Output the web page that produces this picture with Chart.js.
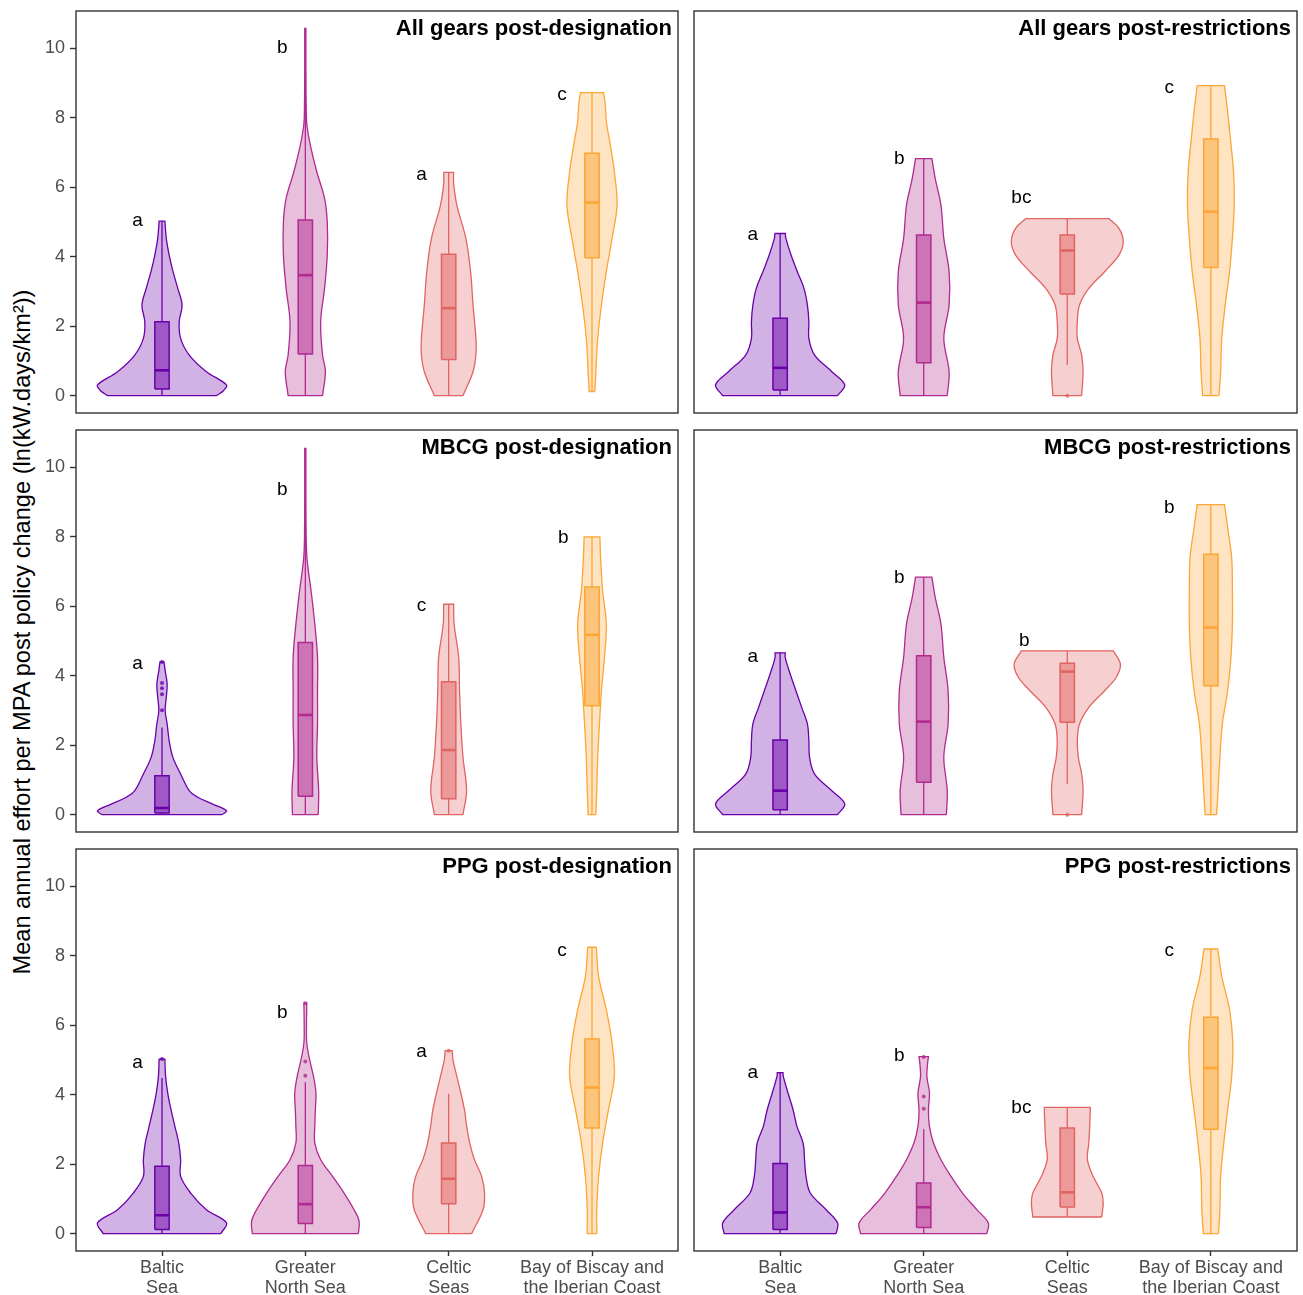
<!DOCTYPE html>
<html>
<head>
<meta charset="utf-8">
<script src="https://cdn.jsdelivr.net/npm/chart.js@4.4.1/dist/chart.umd.min.js"></script>
<style>
  body { margin: 0; background: #fff; }
  #wrap { position: relative; width: 1303px; height: 1295px; overflow: hidden; background: #fff;
          font-family: "Liberation Sans", Arial, sans-serif; }
  #wrap canvas { position: absolute; }
  #ytitle { position: absolute; left: 22px; top: 632px; transform: translate(-50%, -50%) rotate(-90deg);
            white-space: nowrap; font-size: 23.6px; color: #000; }
</style>
</head>
<body>
<div id="wrap">
  <div id="ytitle">Mean annual effort per MPA post policy change (ln(kW.days/km²))</div>
</div>
<script>
// categories and labels
const regionNames = ['Baltic Sea', 'Greater North Sea', 'Celtic Seas', 'Bay of Biscay and the Iberian Coast'];
const xTickLabels = [['Baltic', 'Sea'], ['Greater', 'North Sea'], ['Celtic', 'Seas'], ['Bay of Biscay and', 'the Iberian Coast']];
const panelTitles = ['All gears post-designation', 'All gears post-restrictions',
                     'MBCG post-designation', 'MBCG post-restrictions',
                     'PPG post-designation', 'PPG post-restrictions'];
const yTicks = [0, 2, 4, 6, 8, 10];
const regionColors = ['#6A00A8', '#B12A90', '#E16462', '#FCA636'];

// boxplot stats, one row per panel, one value per region
const whiskerLow = [
  [0, 0, 0, 0.12], [0, 0, 0.88, 0],
  [0, 0, 0, 0], [0, 0, 0.88, 0],
  [0, 0, 0, 0], [0, 0, 0.48, 0]
];
const q1 = [
  [0.19, 1.2, 1.04, 3.97], [0.16, 0.95, 2.93, 3.69],
  [0.05, 0.53, 0.46, 3.14], [0.14, 0.93, 2.66, 3.71],
  [0.12, 0.29, 0.86, 3.04], [0.12, 0.18, 0.77, 3.01]
];
const median = [
  [0.73, 3.47, 2.52, 5.56], [0.8, 2.68, 4.18, 5.3],
  [0.19, 2.87, 1.86, 5.18], [0.69, 2.68, 4.12, 5.39],
  [0.53, 0.85, 1.58, 4.21], [0.61, 0.76, 1.19, 4.77]
];
const q3 = [
  [2.13, 5.06, 4.07, 6.98], [2.23, 4.63, 4.63, 7.39],
  [1.12, 4.96, 3.83, 6.56], [2.15, 4.58, 4.36, 7.5],
  [1.94, 1.96, 2.61, 5.61], [2.02, 1.46, 3.04, 6.23]
];
const whiskerHigh = [
  [5.03, 10.58, 6.43, 8.73], [4.67, 6.83, 5.1, 8.93],
  [2.51, 10.55, 6.06, 8.0], [4.66, 6.84, 4.72, 8.93],
  [4.48, 4.36, 4.03, 8.25], [4.64, 3.01, 3.64, 8.2]
];
const outliers = [
  [[], [], [], []], [[], [], [0], []],
  [[3.01, 3.47, 3.64, 3.79, 4.4], [], [], []], [[], [], [0], []],
  [[5.03], [4.55, 4.96, 6.64], [5.27], []], [[], [3.6, 3.95, 5.09], [], []]
];

// violin density profiles: levels and half-widths (category units)
const violinY = [
  [[0, 0.15, 0.31, 0.69, 1.17, 1.65, 2.13, 2.61, 3.09, 3.57, 4.05, 4.53, 5.03],
   [0, 0.69, 1.17, 2.13, 3.09, 4.05, 5.0, 5.68, 6.45, 7.12, 7.79, 8.37, 9.5, 10.58],
   [0, 0.69, 1.17, 1.65, 2.61, 3.57, 4.53, 5.49, 6.1, 6.43],
   [0.12, 0.69, 1.65, 2.61, 3.57, 4.53, 5.49, 6.45, 7.22, 7.89, 8.37, 8.73]],
  [[0, 0.31, 0.69, 1.17, 1.65, 2.13, 2.61, 3.09, 3.57, 4.05, 4.53, 4.67],
   [0, 0.69, 1.65, 2.61, 3.57, 4.53, 5.49, 6.26, 6.83],
   [0, 0.69, 1.17, 1.65, 2.13, 2.61, 3.09, 3.57, 4.05, 4.43, 4.82, 5.1],
   [0, 0.69, 1.65, 2.61, 3.57, 4.53, 5.49, 6.45, 7.41, 8.18, 8.93]],
  [[0, 0.115, 0.31, 0.5, 0.69, 1.17, 1.65, 2.13, 2.61, 3.0, 3.38, 3.76, 4.15, 4.4],
   [0, 0.69, 1.65, 2.61, 3.57, 4.53, 5.49, 6.45, 7.41, 8.37, 9.5, 10.55],
   [0, 0.69, 1.65, 2.61, 3.57, 4.53, 5.49, 6.06],
   [0, 0.69, 1.65, 2.61, 3.57, 4.53, 5.49, 6.45, 7.41, 8.0]],
  [[0, 0.31, 0.69, 1.17, 1.65, 2.13, 2.61, 3.09, 3.57, 4.05, 4.53, 4.66],
   [0, 0.69, 1.65, 2.61, 3.57, 4.53, 5.49, 6.26, 6.84],
   [0, 0.69, 1.17, 1.65, 2.13, 2.61, 3.09, 3.57, 3.95, 4.34, 4.72],
   [0, 0.69, 1.65, 2.61, 3.57, 4.53, 5.49, 6.45, 7.41, 8.18, 8.93]],
  [[0, 0.31, 0.69, 1.17, 1.65, 2.13, 2.61, 3.09, 3.57, 4.05, 4.53, 5.03],
   [0, 0.36, 0.69, 1.17, 1.65, 2.13, 2.61, 3.09, 3.57, 4.05, 4.53, 5.01, 5.49, 6.0, 6.64],
   [0, 0.69, 1.17, 1.65, 2.13, 2.61, 3.09, 3.57, 4.05, 4.53, 5.01, 5.27],
   [0, 0.69, 1.65, 2.61, 3.57, 4.53, 5.49, 6.45, 7.41, 8.25]],
  [[0, 0.31, 0.69, 1.17, 1.65, 2.13, 2.61, 3.09, 3.57, 4.05, 4.53, 4.64],
   [0, 0.31, 0.69, 1.17, 1.65, 2.13, 2.61, 3.09, 3.57, 4.05, 4.53, 4.91, 5.1],
   [0.48, 0.88, 1.17, 1.65, 2.13, 2.61, 3.09, 3.57, 3.64],
   [0, 0.69, 1.65, 2.61, 3.57, 4.53, 5.49, 6.45, 7.41, 8.2]]
];
const violinW = [
  [[0.38, 0.43, 0.45, 0.31, 0.19, 0.13, 0.12, 0.14, 0.11, 0.077, 0.05, 0.03, 0.02],
   [0.12, 0.14, 0.12, 0.107, 0.134, 0.153, 0.153, 0.134, 0.08, 0.04, 0.011, 0.006, 0.004, 0.004],
   [0.10, 0.17, 0.19, 0.19, 0.17, 0.153, 0.12, 0.057, 0.035, 0.034],
   [0.02, 0.027, 0.04, 0.066, 0.1, 0.14, 0.175, 0.156, 0.128, 0.1, 0.093, 0.08]],
  [[0.40, 0.45, 0.36, 0.24, 0.2, 0.2, 0.19, 0.166, 0.12, 0.076, 0.04, 0.036],
   [0.164, 0.177, 0.14, 0.177, 0.177, 0.14, 0.12, 0.08, 0.057],
   [0.10, 0.11, 0.1, 0.07, 0.07, 0.085, 0.15, 0.26, 0.36, 0.39, 0.36, 0.29],
   [0.057, 0.068, 0.076, 0.1, 0.13, 0.15, 0.163, 0.158, 0.136, 0.117, 0.095]],
  [[0.42, 0.45, 0.35, 0.25, 0.19, 0.13, 0.076, 0.05, 0.036, 0.022, 0.03, 0.036, 0.022, 0.014],
   [0.09, 0.093, 0.08, 0.085, 0.085, 0.085, 0.066, 0.04, 0.011, 0.005, 0.004, 0.004],
   [0.10, 0.125, 0.1, 0.085, 0.076, 0.07, 0.038, 0.035],
   [0.027, 0.033, 0.04, 0.052, 0.066, 0.087, 0.1, 0.074, 0.06, 0.055]],
  [[0.40, 0.45, 0.36, 0.24, 0.205, 0.2, 0.19, 0.15, 0.11, 0.07, 0.035, 0.036],
   [0.158, 0.164, 0.14, 0.17, 0.17, 0.14, 0.12, 0.08, 0.057],
   [0.10, 0.11, 0.1, 0.077, 0.07, 0.085, 0.15, 0.26, 0.34, 0.37, 0.32],
   [0.04, 0.05, 0.063, 0.08, 0.117, 0.14, 0.15, 0.15, 0.145, 0.12, 0.095]],
  [[0.41, 0.45, 0.31, 0.2, 0.13, 0.13, 0.117, 0.09, 0.063, 0.04, 0.025, 0.02],
   [0.37, 0.375, 0.34, 0.27, 0.19, 0.107, 0.066, 0.066, 0.07, 0.074, 0.057, 0.03, 0.01, 0.008, 0.01],
   [0.16, 0.24, 0.25, 0.23, 0.18, 0.147, 0.126, 0.11, 0.085, 0.057, 0.03, 0.025],
   [0.034, 0.033, 0.046, 0.074, 0.115, 0.156, 0.14, 0.1, 0.046, 0.03]],
  [[0.39, 0.40, 0.32, 0.21, 0.18, 0.17, 0.16, 0.117, 0.09, 0.055, 0.022, 0.02],
   [0.44, 0.45, 0.37, 0.27, 0.19, 0.12, 0.068, 0.04, 0.033, 0.04, 0.022, 0.027, 0.033],
   [0.24, 0.25, 0.24, 0.18, 0.14, 0.15, 0.156, 0.16, 0.16],
   [0.053, 0.063, 0.068, 0.09, 0.117, 0.145, 0.153, 0.13, 0.076, 0.048]]
];

// significance letters
const letters = [
  ['a', 'b', 'a', 'c'], ['a', 'b', 'bc', 'c'],
  ['a', 'b', 'c', 'b'], ['a', 'b', 'b', 'b'],
  ['a', 'b', 'a', 'c'], ['a', 'b', 'bc', 'c']
];
const letterY = [
  [5.03, 10.02, 6.35, 8.68], [4.63, 6.83, 5.7, 8.87],
  [4.36, 9.36, 6.02, 7.98], [4.56, 6.83, 5.0, 8.83],
  [4.91, 6.35, 5.25, 8.15], [4.63, 5.13, 3.62, 8.16]
];
const letterDx = [
  [-0.17, -0.16, -0.19, -0.21], [-0.19, -0.17, -0.32, -0.29],
  [-0.17, -0.16, -0.19, -0.2], [-0.19, -0.17, -0.3, -0.29],
  [-0.17, -0.16, -0.19, -0.21], [-0.19, -0.17, -0.32, -0.29]
];

// layout
const FONT = '"Liberation Sans", Arial, sans-serif';
const colLeft = [76, 694], colRight = [678, 1297];
const rowTop = [11, 430, 849], rowBottom = [413, 832, 1251];
const PAD = 4;
const Y_AXIS_W = colLeft[0];
const X_AXIS_H = 1295 - rowBottom[2];
const BOX_HALF = 0.05;

const hexToRgba = (hex, a) => {
  const n = parseInt(hex.slice(1), 16);
  return `rgba(${n >> 16},${(n >> 8) & 255},${n & 255},${a})`;
};

function panelDatasets(p) {
  const datasets = [];
  regionNames.forEach((name, i) => {
    const c = i + 1;
    const col = regionColors[i];
    const ys = violinY[p][i], ws = violinW[p][i];
    const right = ys.map((y, k) => ({ x: c + ws[k], y }));
    const left = ys.map((y, k) => ({ x: c - ws[k], y })).reverse();
    // corners doubled so the flat ends stay flat with tension
    const outline = [right[0], ...right, right[right.length - 1], left[0], ...left, left[left.length - 1], right[0]];
    datasets.push({ label: name, data: outline, borderColor: col, borderWidth: 1.3,
      backgroundColor: hexToRgba(col, 0.3), fill: 'shape', tension: 0.35, pointRadius: 0, order: 5 });
    datasets.push({ label: name + ' lower', data: [{ x: c, y: whiskerLow[p][i] }, { x: c, y: q1[p][i] }],
      borderColor: col, borderWidth: 1.3, fill: false, pointRadius: 0, order: 4 });
    datasets.push({ label: name + ' upper', data: [{ x: c, y: q3[p][i] }, { x: c, y: whiskerHigh[p][i] }],
      borderColor: col, borderWidth: 1.3, fill: false, pointRadius: 0, order: 4 });
    const h = BOX_HALF;
    datasets.push({ label: name + ' box',
      data: [{ x: c - h, y: q1[p][i] }, { x: c + h, y: q1[p][i] }, { x: c + h, y: q3[p][i] },
             { x: c - h, y: q3[p][i] }, { x: c - h, y: q1[p][i] }],
      borderColor: col, borderWidth: 1.5, borderJoinStyle: 'miter',
      backgroundColor: hexToRgba(col, 0.5), fill: 'shape', tension: 0, pointRadius: 0, order: 3 });
    datasets.push({ label: name + ' median', data: [{ x: c - h, y: median[p][i] }, { x: c + h, y: median[p][i] }],
      borderColor: col, borderWidth: 2.6, fill: false, pointRadius: 0, order: 2 });
    datasets.push({ label: name + ' outliers', data: outliers[p][i].map(v => ({ x: c, y: v })),
      showLine: false, pointRadius: 2, pointBackgroundColor: hexToRgba(col, 0.8), pointBorderWidth: 0, order: 1 });
  });
  return datasets;
}

const decor = {
  id: 'decor',
  afterDatasetsDraw(chart) {
    const p = chart.options.plugins.decor.panel;
    const { ctx, chartArea: a, scales: { x, y } } = chart;
    ctx.save();
    ctx.strokeStyle = '#333333';
    ctx.lineWidth = 1.4;
    ctx.strokeRect(a.left, a.top, a.right - a.left, a.bottom - a.top);

    ctx.fillStyle = '#000';
    ctx.font = `bold 22px ${FONT}`;
    ctx.textAlign = 'right';
    ctx.textBaseline = 'alphabetic';
    ctx.fillText(panelTitles[p], a.right - 6, a.top + 24);

    ctx.font = `19px ${FONT}`;
    ctx.textAlign = 'center';
    ctx.textBaseline = 'middle';
    letters[p].forEach((t, i) => {
      ctx.fillText(t, x.getPixelForValue(i + 1 + letterDx[p][i]), y.getPixelForValue(letterY[p][i]));
    });
    ctx.restore();
  }
};

const wrap = document.getElementById('wrap');
panelTitles.forEach((title, p) => {
  const col = p % 2, row = Math.floor(p / 2);
  const showY = col === 0, showX = row === 2;
  const left = showY ? 0 : colLeft[col] - PAD;
  const right = colRight[col] + PAD;
  const top = rowTop[row] - PAD;
  const bottom = showX ? 1295 : rowBottom[row] + PAD;

  const canvas = document.createElement('canvas');
  canvas.width = right - left;
  canvas.height = bottom - top;
  canvas.style.left = left + 'px';
  canvas.style.top = top + 'px';
  wrap.appendChild(canvas);

  const tickFont = { size: 18, family: FONT, lineHeight: 1.1 };
  new Chart(canvas.getContext('2d'), {
    type: 'line',
    data: { datasets: panelDatasets(p) },
    options: {
      responsive: false,
      animation: false,
      events: [],
      layout: { padding: { left: showY ? 0 : PAD, right: PAD, top: PAD, bottom: showX ? 0 : PAD } },
      plugins: { legend: { display: false }, tooltip: { enabled: false }, decor: { panel: p } },
      scales: {
        x: {
          type: 'linear', min: 0.4, max: 4.6, display: showX,
          afterBuildTicks: s => { s.ticks = regionNames.map((n, i) => ({ value: i + 1 })); },
          afterFit: s => {
            s.paddingLeft = 0; s.paddingRight = 0;
            if (showX) s.height = X_AXIS_H;
          },
          ticks: { callback: v => xTickLabels[v - 1], color: '#4d4d4d', font: tickFont,
                   padding: 2, maxRotation: 0, autoSkip: false },
          grid: { drawOnChartArea: false, tickLength: 5, tickColor: '#333', tickWidth: 1.4 },
          border: { display: false }
        },
        y: {
          type: 'linear', min: -0.5, max: 11.08, display: showY,
          afterBuildTicks: s => { s.ticks = yTicks.map(v => ({ value: v })); },
          afterFit: s => {
            s.paddingTop = 0; s.paddingBottom = 0;
            if (showY) s.width = Y_AXIS_W;
          },
          ticks: { color: '#4d4d4d', font: tickFont, padding: 5, autoSkip: false },
          grid: { drawOnChartArea: false, tickLength: 6, tickColor: '#333', tickWidth: 1.4 },
          border: { display: false }
        }
      }
    },
    plugins: [decor]
  });
});
</script>
</body>
</html>
